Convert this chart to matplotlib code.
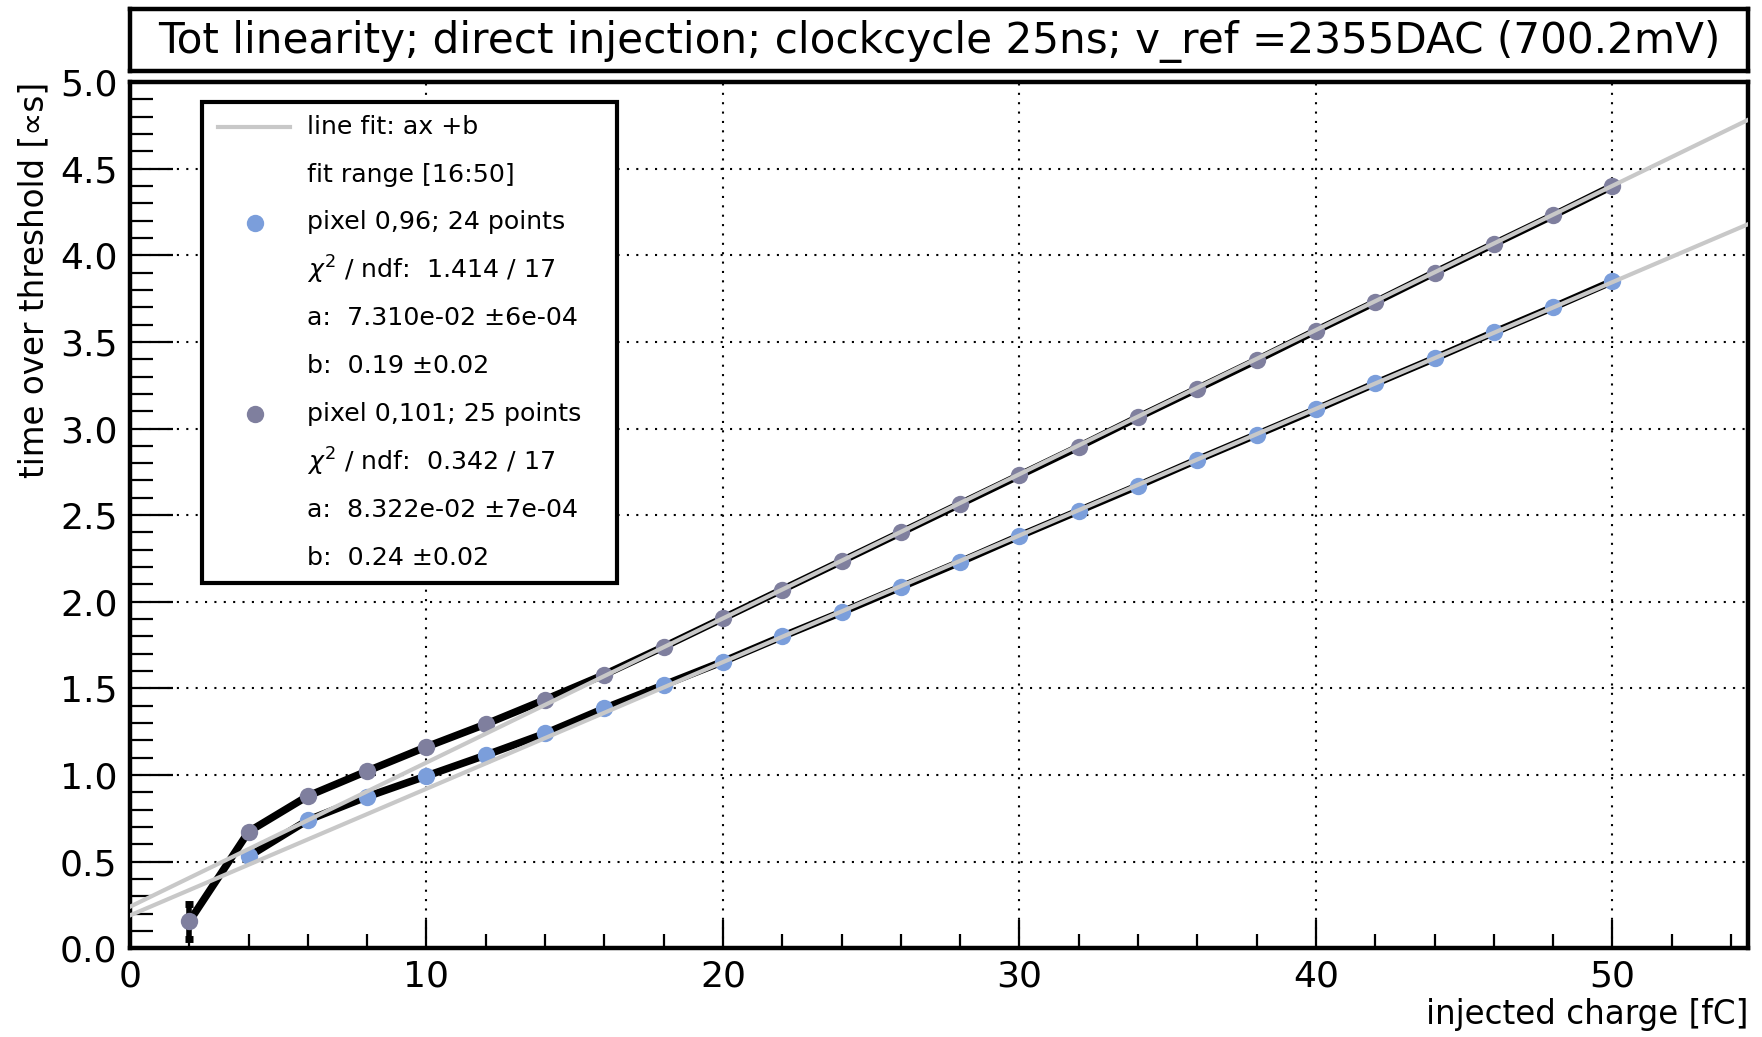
import numpy as np
import matplotlib
matplotlib.use("Agg")
import matplotlib.pyplot as plt
from matplotlib.patches import Rectangle
from matplotlib.ticker import MultipleLocator

# ---- data ----
charge_96 = [4, 6, 8, 10, 12, 14, 16, 18, 20, 22, 24, 26, 28, 30, 32, 34, 36, 38, 40, 42, 44, 46, 48, 50]
tot_96 = [0.53, 0.74, 0.875, 0.995, 1.115, 1.24, 1.385, 1.52, 1.655, 1.80, 1.94, 2.085, 2.23, 2.38,
          2.525, 2.67, 2.82, 2.965, 3.11, 3.26, 3.405, 3.555, 3.70, 3.85]

charge_101 = [2, 4, 6, 8, 10, 12, 14, 16, 18, 20, 22, 24, 26, 28, 30, 32, 34, 36, 38, 40, 42, 44, 46, 48, 50]
tot_101 = [0.155, 0.673, 0.879, 1.023, 1.163, 1.294, 1.435, 1.58, 1.74, 1.905, 2.07, 2.235, 2.40, 2.565,
           2.73, 2.895, 3.065, 3.23, 3.395, 3.565, 3.73, 3.90, 4.065, 4.23, 4.40]
err_101 = [0.10, 0.01, 0.01, 0.01, 0.01, 0.01, 0.01, 0.01, 0.01, 0.01, 0.01, 0.01, 0.01, 0.01,
           0.01, 0.01, 0.01, 0.01, 0.01, 0.01, 0.01, 0.01, 0.01, 0.01, 0.01]

fit_a = [7.310e-02, 8.322e-02]
fit_b = [0.19, 0.24]

legend_rows = [
    "line fit: ax +b",
    "fit range [16:50]",
    "pixel 0,96; 24 points",
    r"$\chi^{2}$ / ndf:  1.414 / 17",
    "a:  7.310e-02 \u00b16e-04",
    "b:  0.19 \u00b10.02",
    "pixel 0,101; 25 points",
    r"$\chi^{2}$ / ndf:  0.342 / 17",
    "a:  8.322e-02 \u00b17e-04",
    "b:  0.24 \u00b10.02",
]

title = "Tot linearity; direct injection; clockcycle 25ns; v_ref =2355DAC (700.2mV)"

col_96 = "#7b9edb"
col_101 = "#7f7f9e"
col_fit = "#c8c8c8"

plt.rcParams["font.family"] = ["DejaVu Sans"]
plt.rcParams["mathtext.fontset"] = "dejavusans"

W, H = 1762, 1037
fig = plt.figure(figsize=(W / 100, H / 100), dpi=100)

# axes frame in pixels: x 130..1748, y 82..948
ax = fig.add_axes([130 / W, 1 - 948.3 / H, (1748 - 130) / W, (948.3 - 82) / H])
xmax = 54.57
ax.set_xlim(0, xmax)
ax.set_ylim(0, 5.0)

# thick black graph lines, markers, then fit lines on top
ax.plot(charge_96, tot_96, color="black", lw=5.4, solid_capstyle="round", zorder=2)
ax.plot(charge_101, tot_101, color="black", lw=5.4, solid_capstyle="round", zorder=2)

ex = [c for c, e in zip(charge_101, err_101) if e > 0.05]
ey = [t for t, e in zip(tot_101, err_101) if e > 0.05]
ee = [e for e in err_101 if e > 0.05]
ax.errorbar(ex, ey, yerr=ee, fmt="none", ecolor="black", elinewidth=4,
            capsize=3, capthick=5, zorder=2.5)

ax.plot(charge_96, tot_96, "o", color=col_96, ms=12.5, mec="none", zorder=3)
ax.plot(charge_101, tot_101, "o", color=col_101, ms=12.5, mec="none", zorder=3)

xf = np.array([0, xmax])
for a, b in zip(fit_a, fit_b):
    ax.plot(xf, a * xf + b, color=col_fit, lw=3.0, zorder=4, clip_on=True)

# ROOT-like axes
for s in ax.spines.values():
    s.set_linewidth(3.2)
ax.xaxis.set_major_locator(MultipleLocator(10))
ax.xaxis.set_minor_locator(MultipleLocator(2))
ax.yaxis.set_major_locator(MultipleLocator(0.5))
ax.yaxis.set_minor_locator(MultipleLocator(0.1))
ax.yaxis.set_major_formatter(plt.FuncFormatter(lambda v, p: f"{v:.1f}"))
ax.tick_params(axis="both", which="both", direction="in", top=False, right=False,
               width=1.6, labelsize=26)
ax.tick_params(axis="x", which="major", length=20, pad=8)
ax.tick_params(axis="x", which="minor", length=10)
ax.tick_params(axis="y", which="major", length=31, pad=9)
ax.tick_params(axis="y", which="minor", length=16.5)
ax.grid(True, which="major", color="black", lw=1.5, ls=(0, (1, 3.5)), zorder=1)

ax.set_xlabel("injected charge [fC]", fontsize=23.5, loc="right", labelpad=3)
ax.set_ylabel("time over threshold [\u221ds]", fontsize=23.5, loc="top", labelpad=7)

# legend box
def axf(px, py):
    return (px - 130) / (1748 - 130), (948.3 - py) / (948.3 - 82)

lx0, ly0 = axf(202, 583)
lx1, ly1 = axf(617, 102)
ax.add_patch(Rectangle((lx0, ly0), lx1 - lx0, ly1 - ly0, transform=ax.transAxes,
                       facecolor="white", edgecolor="black", lw=3.0, zorder=10))
row0, step = 126.7, 47.9
for i, txt in enumerate(legend_rows):
    py = row0 + i * step
    tx, ty = axf(307, py)
    ax.text(tx, ty, txt, transform=ax.transAxes, fontsize=18.2, va="center", ha="left", zorder=11)
sx0, sy = axf(218, row0)
sx1, _ = axf(290, row0)
ax.plot([sx0, sx1], [sy, sy], transform=ax.transAxes, color=col_fit, lw=3.0, zorder=11, clip_on=False)
mx, my = axf(255, row0 + 2 * step)
ax.plot([mx], [my], "o", transform=ax.transAxes, color=col_96, ms=12.5, mec="none", zorder=11, clip_on=False)
mx, my = axf(255, row0 + 6 * step)
ax.plot([mx], [my], "o", transform=ax.transAxes, color=col_101, ms=12.5, mec="none", zorder=11, clip_on=False)

# title box
tb = fig.add_axes([130 / W, 1 - 71 / H, (1748 - 130) / W, (71 - 9) / H])
tb.set_xticks([])
tb.set_yticks([])
for s in tb.spines.values():
    s.set_linewidth(3.2)
t = tb.text(0.5, 0.47, title, ha="center", va="center", fontsize=32,
            family=["Liberation Sans Narrow", "DejaVu Sans"], transform=tb.transAxes)
fig.canvas.draw()
w = t.get_window_extent().width
t.set_fontsize(min(32 * 1565 / w, 46))

fig.savefig("out.png", dpi=100)
